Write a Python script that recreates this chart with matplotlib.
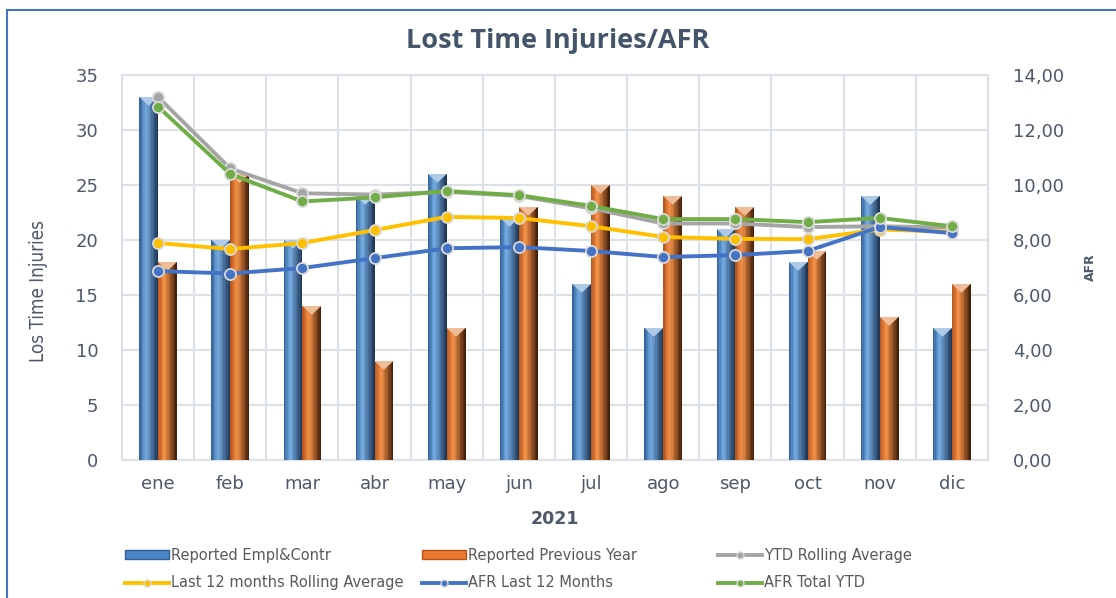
import numpy as np
import matplotlib
matplotlib.use('Agg')
import matplotlib.pyplot as plt
from matplotlib.patches import Rectangle, Polygon
from matplotlib.colors import to_rgb
from matplotlib.lines import Line2D
from matplotlib.patches import Patch

months = ['ene', 'feb', 'mar', 'abr', 'may', 'jun', 'jul', 'ago', 'sep', 'oct', 'nov', 'dic']
reported = [33, 20, 20, 24, 26, 22, 16, 12, 21, 18, 24, 12]
previous = [18, 26, 14, 9, 12, 23, 25, 24, 23, 19, 13, 16]
ytd_rolling = [13.2, 10.6, 9.7, 9.65, 9.75, 9.6, 9.15, 8.6, 8.6, 8.47, 8.5, 8.45]
last12_rolling = [7.89, 7.67, 7.89, 8.36, 8.84, 8.8, 8.5, 8.11, 8.04, 8.03, 8.38, 8.3]
afr_last12 = [6.87, 6.78, 6.98, 7.34, 7.7, 7.74, 7.6, 7.38, 7.45, 7.6, 8.47, 8.25]
afr_ytd = [12.85, 10.4, 9.4, 9.55, 9.78, 9.63, 9.24, 8.76, 8.76, 8.65, 8.8, 8.5]

txt = '#4D5869'
grid_c = '#DCE1E8'

fig = plt.figure(figsize=(11.16, 5.98), dpi=100)
ax = fig.add_axes([0.1093, 0.2308, 0.776, 0.6438])
ax2 = ax.twinx()

x = np.arange(len(months))
w = 0.26

def cyl(axis, xpos, vals, dark, light, darkest, n=14):
    # fake cylinder shading by stacking thin strips
    c1, c2, c3 = np.array(to_rgb(dark)), np.array(to_rgb(light)), np.array(to_rgb(darkest))
    sw = w / n
    for k in range(n):
        t = (k + 0.5) / n
        if t < 0.35:
            c = c1 + (c2 - c1) * (t / 0.35)
        else:
            c = c2 + (c3 - c2) * ((t - 0.35) / 0.65)
        axis.bar(xpos - w / 2 + (k + 0.5) * sw, vals, width=sw * 1.05, color=c, linewidth=0, zorder=3)
    # small pointed cap on top of each cylinder
    for xp, v in zip(xpos, vals):
        axis.add_patch(Polygon([(xp - w / 2, v), (xp + w / 2, v), (xp, v - 0.8)], closed=True,
                               facecolor=c2 * 0.5 + 0.5 * np.array([1, 1, 1]) * 0.9, edgecolor='none', zorder=3.5))

cyl(ax, x - w / 2, reported, '#2F5E92', '#76AEE6', '#1B3150')
cyl(ax, x + w / 2, previous, '#B4531A', '#F7944A', '#3E1A06')

ax.set_xlim(-0.5, 11.5)
ax.set_ylim(0, 35)
ax.set_yticks(range(0, 36, 5))
ax.set_xticks(x)
ax.set_xticklabels(months)
ax.set_xticks(np.arange(-0.5, 12, 1), minor=True)
ax.grid(True, which='minor', axis='x', color=grid_c, lw=1.5, zorder=0)
ax.grid(True, which='major', axis='y', color=grid_c, lw=1.5, zorder=0)
ax.set_axisbelow(True)
ax.tick_params(which='both', length=0)
ax.tick_params(axis='y', pad=17, labelsize=13, labelcolor=txt)
ax.tick_params(axis='x', pad=11, labelsize=13, labelcolor=txt)
for s in ax.spines.values():
    s.set_color(grid_c)
    s.set_linewidth(1.5)
for s in ax2.spines.values():
    s.set_visible(False)

ax.set_ylabel('Los Time Injuries', fontsize=13.5, color=txt, family='DejaVu Sans', fontstretch='condensed')
ax.yaxis.set_label_coords(-0.086, 0.44)
ax.set_xlabel('2021', fontsize=12.5, fontweight='bold', color=txt, labelpad=12)

ax2.set_ylim(0, 14)
ax2.set_yticks(range(0, 15, 2))
ax2.set_yticklabels(['%d,00' % v for v in range(0, 15, 2)])
ax2.tick_params(length=0, pad=18, labelsize=13, labelcolor=txt)
ax2.set_ylabel('AFR', fontsize=9, fontweight='bold', color=txt, labelpad=14)

mk = dict(marker='o', markersize=8, markeredgecolor='#D9D9D9', markeredgewidth=1.3, lw=2.8, zorder=4)
ax2.plot(x, ytd_rolling, color='#A5A5A5', **mk)
ax2.plot(x, last12_rolling, color='#FFC000', **mk)
ax2.plot(x, afr_last12, color='#4472C4', **mk)
ax2.plot(x, afr_ytd, color='#70AD47', **mk)

fig.text(0.5, 0.932, 'Lost Time Injuries/AFR', ha='center', va='center', fontsize=19.5,
         fontweight='bold', color='#44546A', family='Open Sans', fontstretch='condensed')

# outer chart border
fig.patches.append(Rectangle((7 / 1116, -0.05), 1.2, (598 - 10) / 598 + 0.05, transform=fig.transFigure,
                             fill=False, edgecolor='#4472C4', lw=1.5))

lk = dict(marker='o', markersize=5, markeredgecolor='#D9D9D9', lw=2.8)
cols = [
    [Patch(facecolor='#4A86C5', edgecolor='#2F5E92'), Line2D([], [], color='#FFC000', **lk)],
    [Patch(facecolor='#E8782E', edgecolor='#B4531A'), Line2D([], [], color='#4472C4', **lk)],
    [Line2D([], [], color='#A5A5A5', **lk), Line2D([], [], color='#70AD47', **lk)],
]
labels = [['Reported Empl&Contr', 'Last 12 months Rolling Average'],
          ['Reported Previous Year', 'AFR Last 12 Months'],
          ['YTD Rolling Average', 'AFR Total YTD']]
xs = [125, 422, 718]
for h, l, xx in zip(cols, labels, xs):
    fig.legend(h, l, loc='upper left', bbox_to_anchor=(xx / 1116, 1 - 548 / 598), frameon=False,
               fontsize=10.5, labelcolor='#595959', handlelength=3.0, handleheight=0.6,
               handletextpad=0.15, labelspacing=0.85, borderpad=0, borderaxespad=0)

fig.savefig('out.png', dpi=100)
